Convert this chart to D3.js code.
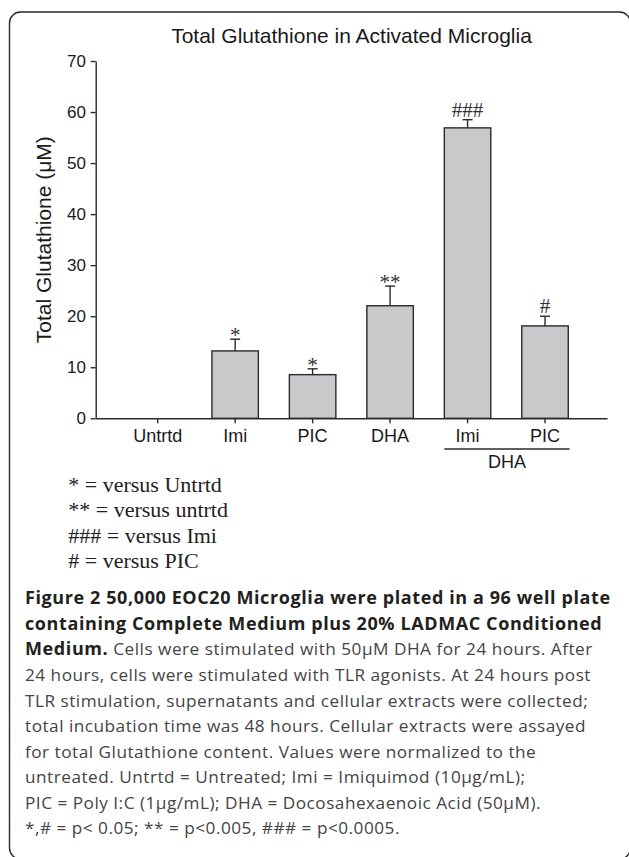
<!DOCTYPE html>
<html>
<head>
<meta charset="utf-8">
<script src="https://cdn.jsdelivr.net/npm/d3@7"></script>
<style>
  html, body { margin: 0; padding: 0; background: #fff; }
  svg { display: block; }
</style>
</head>
<body>
<svg id="fig" width="629" height="857"></svg>
<script>
// ---------------- data ----------------
const categoryKeys = ["Untrtd", "Imi", "PIC", "DHA", "DHA+Imi", "DHA+PIC"];
const tickLabels   = ["Untrtd", "Imi", "PIC", "DHA", "Imi", "PIC"];
const values       = [0, 13.2, 8.55, 22.05, 56.9, 18.1];
const errors       = [0, 2.3, 1.15, 3.85, 1.6, 1.9];
const significance = ["", "*", "*", "**", "###", "#"];
const yTicks       = [0, 10, 20, 30, 40, 50, 60, 70];
const groupMembers = ["DHA+Imi", "DHA+PIC"];
const groupLabel   = "DHA";
const chartTitle   = "Total Glutathione in Activated Microglia";
const yTitle       = "Total Glutathione (\u03BCM)";
const legendLines  = ["* = versus Untrtd", "** = versus untrtd", "### = versus Imi", "# = versus PIC"];
const captionBoldLines = [
  "Figure 2 50,000 EOC20 Microglia were plated in a 96 well plate",
  "containing Complete Medium plus 20% LADMAC Conditioned",
  "Medium."
];
const captionRegularLines = [
  " Cells were stimulated with 50\u03BCM DHA for 24 hours. After",
  "24 hours, cells were stimulated with TLR agonists. At 24 hours post",
  "TLR stimulation, supernatants and cellular extracts were collected;",
  "total incubation time was 48 hours. Cellular extracts were assayed",
  "for total Glutathione content. Values were normalized to the",
  "untreated. Untrtd = Untreated; Imi = Imiquimod (10\u03BCg/mL);",
  "PIC = Poly I:C (1\u03BCg/mL); DHA = Docosahexaenoic Acid (50\u03BCM).",
  "*,# = p< 0.05; ** = p<0.005, ### = p<0.0005."
];

// ---------------- layout ----------------
const svg = d3.select("#fig");
const ink = "#2a2a2a";
const sans = "'Liberation Sans', Arial, sans-serif";
const serif = "'Liberation Serif', 'Times New Roman', serif";
const capFont = "'Open Sans', 'Noto Sans', sans-serif";

// frame
svg.append("rect")
  .attr("x", 9.5).attr("y", 12).attr("width", 621).attr("height", 847)
  .attr("rx", 11).attr("ry", 11)
  .attr("fill", "none").attr("stroke", ink).attr("stroke-width", 1.4);

const x = d3.scaleBand().domain(categoryKeys).range([95.7, 607])
  .paddingInner(0.4).paddingOuter(0.5);
const y = d3.scaleLinear().domain([0, 70]).range([418.3, 61]);

const data = categoryKeys.map((k, i) => ({
  key: k, label: tickLabels[i], value: values[i], err: errors[i], sig: significance[i]
}));

// title
svg.append("text").attr("x", 351.5).attr("y", 43)
  .attr("text-anchor", "middle").attr("font-family", sans).attr("font-size", 21)
  .attr("fill", "#1a1a1a").text(chartTitle);

// y axis
const yAxis = svg.append("g").attr("transform", `translate(${x.range()[0]},0)`)
  .call(d3.axisLeft(y).tickValues(yTicks).tickFormat(d3.format("d"))
    .tickSize(5).tickSizeOuter(0).tickPadding(4.7));
yAxis.selectAll("text").attr("font-family", sans).attr("font-size", 17).attr("fill", "#1a1a1a");
yAxis.selectAll("line, path").attr("stroke", ink).attr("stroke-width", 1.4);

// y title
svg.append("text")
  .attr("transform", `translate(50.7,${(y(0) + y(70)) / 2}) rotate(-90)`)
  .attr("text-anchor", "middle").attr("font-family", sans).attr("font-size", 21)
  .attr("fill", "#1a1a1a").text(yTitle);

// bars
svg.append("g").selectAll("rect").data(data.filter(d => d.value > 0)).join("rect")
  .attr("x", d => x(d.key)).attr("width", x.bandwidth())
  .attr("y", d => y(d.value)).attr("height", d => y(0) - y(d.value))
  .attr("fill", "#c8c9cb").attr("stroke", ink).attr("stroke-width", 1.4);

// error bars
const eg = svg.append("g").attr("stroke", ink).attr("stroke-width", 1.4);
data.filter(d => d.err > 0).forEach(d => {
  const cx = x(d.key) + x.bandwidth() / 2;
  eg.append("line").attr("x1", cx).attr("x2", cx)
    .attr("y1", y(d.value)).attr("y2", y(d.value + d.err));
  eg.append("line").attr("x1", cx - 5).attr("x2", cx + 5)
    .attr("y1", y(d.value + d.err)).attr("y2", y(d.value + d.err));
});

// significance marks
svg.append("g").selectAll("text").data(data.filter(d => d.sig)).join("text")
  .attr("x", d => x(d.key) + x.bandwidth() / 2)
  .attr("y", d => y(d.value + d.err) + (d.sig.startsWith("*") ? 3 : -3))
  .attr("text-anchor", "middle").attr("font-family", serif).attr("font-size", 21)
  .attr("fill", "#333").text(d => d.sig);

// x axis
const xAxis = svg.append("g").attr("transform", `translate(0,${y(0)})`)
  .call(d3.axisBottom(x).tickFormat((k, i) => tickLabels[i])
    .tickSize(5).tickSizeOuter(0).tickPadding(6.4));
xAxis.selectAll("text").attr("font-family", sans).attr("font-size", 18).attr("fill", "#1a1a1a");
xAxis.selectAll("line, path").attr("stroke", ink).attr("stroke-width", 1.4);

// group bracket
const gx0 = x(groupMembers[0]);
const gx1 = x(groupMembers[groupMembers.length - 1]) + x.bandwidth() + 1.3;
svg.append("line").attr("x1", gx0).attr("x2", gx1).attr("y1", 449).attr("y2", 449)
  .attr("stroke", ink).attr("stroke-width", 1.4);
svg.append("text").attr("x", (gx0 + gx1) / 2).attr("y", 468)
  .attr("text-anchor", "middle").attr("font-family", sans).attr("font-size", 18)
  .attr("fill", "#1a1a1a").text(groupLabel);

// legend
svg.append("g").selectAll("text").data(legendLines).join("text")
  .attr("x", 68.3).attr("y", (d, i) => 491.7 + i * 25.5)
  .attr("font-family", serif).attr("font-size", 22).attr("fill", "#222")
  .text(d => d);

// caption
const capX = 25, capY0 = 604.3, capStep = 25.55;
const boldStyle = s => s.attr("font-weight", "bold").attr("font-size", 18)
  .attr("letter-spacing", 0.6).attr("fill", "#231f20");
const regStyle = s => s.attr("font-weight", "normal").attr("font-size", 17.2)
  .attr("letter-spacing", 0.5).attr("fill", "#444");
const cap = svg.append("g").attr("font-family", capFont);
captionBoldLines.forEach((t, i) => {
  const line = cap.append("text").attr("x", capX).attr("y", capY0 + i * capStep);
  line.append("tspan").call(boldStyle).text(t);
  if (i === captionBoldLines.length - 1) {
    line.append("tspan").call(regStyle).text(captionRegularLines[0]);
  }
});
captionRegularLines.slice(1).forEach((t, i) => {
  cap.append("text").attr("x", capX)
    .attr("y", capY0 + (captionBoldLines.length + i) * capStep)
    .call(regStyle).text(t);
});
</script>
</body>
</html>
